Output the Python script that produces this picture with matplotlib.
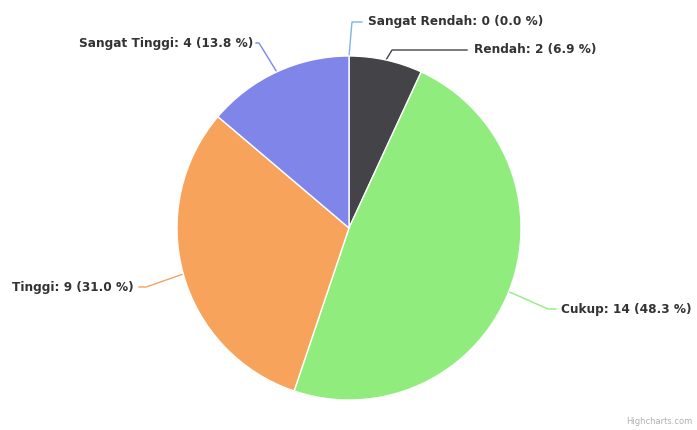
import numpy as np
import matplotlib.pyplot as plt

categories = ["Sangat Rendah", "Rendah", "Cukup", "Tinggi", "Sangat Tinggi"]
counts = [0, 2, 14, 9, 4]
colors = ["#7cb5ec", "#434348", "#90ed7d", "#f7a35c", "#8085e9"]

# label anchor (x, y in pixels from top-left), alignment, connector bend x, end x
label_pos = [(368, 22, "left", 352, 362), (474, 50, "left", 392, 467),
             (561, 309, "left", 548, 556), (134, 287, "right", 146, 139),
             (253, 43, "right", 259, 256)]

W, H = 697, 430
cx, cy, r = 349, 228, 172

fig = plt.figure(figsize=(W / 100, H / 100), dpi=100)
ax = fig.add_axes([0, 0, 1, 1])

ax.pie(counts, colors=colors, startangle=90, counterclock=False,
       center=(cx, H - cy), radius=r, frame=True,
       wedgeprops=dict(edgecolor="white", linewidth=1))
ax.set_xlim(0, W)
ax.set_ylim(0, H)
ax.axis("off")

total = sum(counts)
start = 90.0
for name, val, col, (lx, ly, ha, bx, ex) in zip(categories, counts, colors, label_pos):
    sweep = 360.0 * val / total
    mid = np.radians(start - sweep / 2)
    start -= sweep
    px = cx + r * np.cos(mid)
    py = (H - cy) + r * np.sin(mid)
    ty = H - ly
    ax.plot([px, bx, ex], [py, ty, ty], color=col, linewidth=1, zorder=0.5)
    pct = 100.0 * val / total
    ax.text(lx, ty, f"{name}: {val} ({pct:.1f} %)", ha=ha, va="center",
            fontsize=8.7, fontweight="bold", color="#333333")

ax.text(692, H - 422, "Highcharts.com", ha="right", va="center",
        fontsize=6, color="#b0b0b0")

fig.savefig("out.png", dpi=100)
